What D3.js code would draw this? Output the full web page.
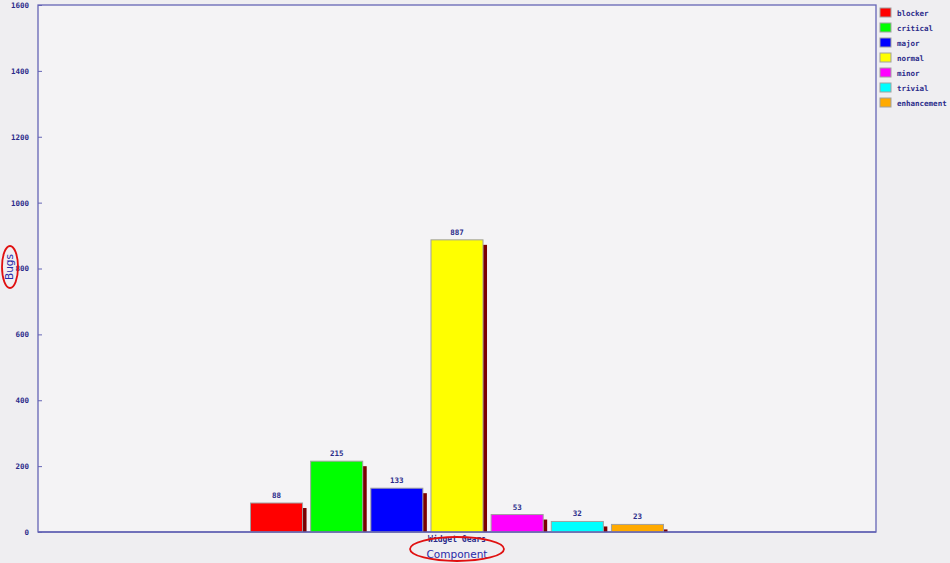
<!DOCTYPE html>
<html>
<head>
<meta charset="utf-8">
<script src="https://cdn.jsdelivr.net/npm/d3@7"></script>
<style>
  body { margin: 0; background: #efeef1; }
  svg { display: block; }
</style>
</head>
<body>
<svg id="chart" width="950" height="563"></svg>
<script>
// data
const components = ["Widget Gears"];
const severities = ["blocker", "critical", "major", "normal", "minor", "trivial", "enhancement"];
const bugCounts = [88, 215, 133, 887, 53, 32, 23];
const severityColors = ["#ff0000", "#00ff00", "#0000ff", "#ffff00", "#ff00ff", "#00ffff", "#ffaa00"];
const yTicks = [0, 200, 400, 600, 800, 1000, 1200, 1400, 1600];

const svg = d3.select("#chart"),
      width = +svg.attr("width"),
      height = +svg.attr("height");

const margin = {top: 5, right: 74, bottom: 31, left: 38};
const axisColor = "#6565b5";
const textColor = "#2b2b8a";
const monoFont = "'DejaVu Sans Mono', monospace";

// background
svg.append("rect").attr("width", width).attr("height", height).attr("fill", "#efeef1");

const g = svg.append("g").attr("transform", `translate(${margin.left},${margin.top})`);
const w = width - margin.left - margin.right;
const h = height - margin.top - margin.bottom;

g.append("rect").attr("width", w).attr("height", h).attr("fill", "#f4f3f5");

const x0 = d3.scaleBand().domain(components).range([0, w]).paddingInner(0).paddingOuter(0.5);
const x1 = d3.scaleBand().domain(severities).range([0, x0.bandwidth()]).paddingInner(0.135).paddingOuter(0.05);
const y = d3.scaleLinear().domain([0, 1600]).range([h, 0]);
const color = d3.scaleOrdinal().domain(severities).range(severityColors);

const rows = severities.map((s, i) => ({sev: s, comp: components[0], val: bugCounts[i]}));

// y axis (ticks point inward)
const yAxis = g.append("g")
  .call(d3.axisLeft(y).tickValues(yTicks).tickSize(-4).tickPadding(9).tickFormat(d3.format("d")));
yAxis.select(".domain").remove();
yAxis.selectAll("line").attr("stroke", axisColor);
yAxis.selectAll("text")
  .attr("fill", textColor)
  .style("font-family", monoFont)
  .style("font-size", "7.5px")
  .style("font-weight", "bold");

// frame
g.append("rect").attr("width", w).attr("height", h)
  .attr("fill", "none").attr("stroke", axisColor).attr("stroke-width", 1.3);

// bars + shadow
const grp = g.selectAll("g.comp")
  .data(components)
  .enter().append("g")
    .attr("class", "comp")
    .attr("transform", d => `translate(${x0(d)},0)`);

grp.selectAll("rect.shadow")
  .data(rows)
  .enter().append("rect")
    .attr("class", "shadow")
    .attr("x", d => x1(d.sev) + x1.bandwidth())
    .attr("y", d => y(d.val) + 5)
    .attr("width", 4)
    .attr("height", d => h - y(d.val) - 5)
    .attr("fill", "#7a0000");

grp.selectAll("rect.bar")
  .data(rows)
  .enter().append("rect")
    .attr("class", "bar")
    .attr("x", d => x1(d.sev))
    .attr("y", d => y(d.val))
    .attr("width", x1.bandwidth())
    .attr("height", d => h - y(d.val))
    .attr("fill", d => color(d.sev))
    .attr("stroke", "#a0a0a0")
    .attr("stroke-width", 1);

grp.selectAll("text.value")
  .data(rows)
  .enter().append("text")
    .attr("class", "value")
    .attr("x", d => x1(d.sev) + x1.bandwidth() / 2)
    .attr("y", d => y(d.val) - 5)
    .attr("text-anchor", "middle")
    .attr("fill", textColor)
    .style("font-family", monoFont)
    .style("font-size", "7.5px")
    .style("font-weight", "bold")
    .text(d => d.val);

// baseline again on top of the bars
g.append("line").attr("x1", 0).attr("x2", w).attr("y1", h).attr("y2", h)
  .attr("stroke", axisColor).attr("stroke-width", 1.3);

// category label
g.append("text")
  .attr("x", x0(components[0]) + x0.bandwidth() / 2)
  .attr("y", h + 10)
  .attr("text-anchor", "middle")
  .attr("fill", textColor)
  .style("font-family", monoFont)
  .style("font-size", "8px")
  .style("font-weight", "bold")
  .text(components[0]);

// axis titles
const xTitleX = margin.left + x0(components[0]) + x0.bandwidth() / 2;
svg.append("text")
  .attr("x", xTitleX)
  .attr("y", 558)
  .attr("text-anchor", "middle")
  .attr("fill", "#2a2aa8")
  .style("font-family", "'DejaVu Sans', sans-serif")
  .style("font-size", "10.5px")
  .text("Component");

svg.append("text")
  .attr("transform", "translate(13,267) rotate(-90)")
  .attr("text-anchor", "middle")
  .attr("fill", "#2a2aa8")
  .style("font-family", "'DejaVu Sans', sans-serif")
  .style("font-size", "10.5px")
  .text("Bugs");

// red ellipses round the axis titles
svg.append("ellipse").attr("cx", 10).attr("cy", 267).attr("rx", 8).attr("ry", 21)
  .attr("fill", "none").attr("stroke", "#e01010").attr("stroke-width", 1.8);
svg.append("ellipse").attr("cx", xTitleX).attr("cy", 549).attr("rx", 47).attr("ry", 12)
  .attr("fill", "none").attr("stroke", "#e01010").attr("stroke-width", 1.8);

// legend
const legend = svg.append("g").attr("transform", "translate(880,8)");
const item = legend.selectAll("g")
  .data(severities)
  .enter().append("g")
    .attr("transform", (d, i) => `translate(0,${i * 15})`);
item.append("rect")
  .attr("width", 11).attr("height", 9)
  .attr("fill", d => color(d))
  .attr("stroke", "#a0a0a0");
item.append("text")
  .attr("x", 17).attr("y", 7.5)
  .attr("fill", textColor)
  .style("font-family", monoFont)
  .style("font-size", "7.5px")
  .style("font-weight", "bold")
  .text(d => d);
</script>
</body>
</html>
